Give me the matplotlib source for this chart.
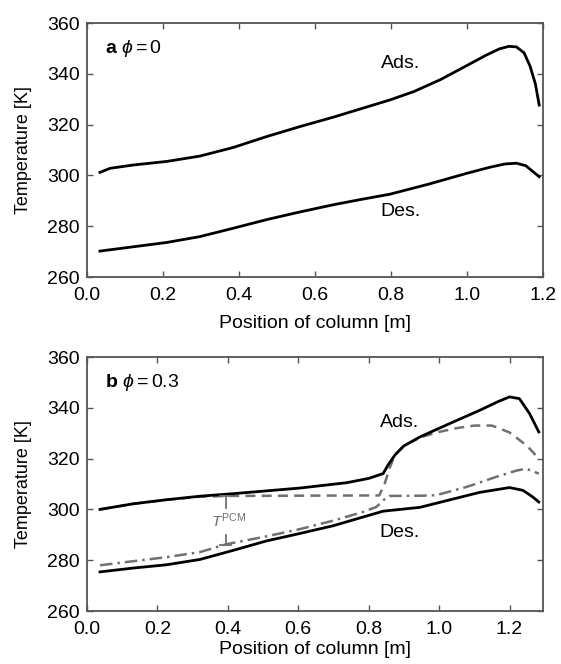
import matplotlib
matplotlib.use("Agg")
import matplotlib.pyplot as plt
import numpy as np

plt.rcParams['font.family'] = ['Liberation Sans', 'DejaVu Sans']
plt.rcParams['mathtext.fontset'] = 'custom'
plt.rcParams['mathtext.rm'] = 'Liberation Sans'
plt.rcParams['mathtext.it'] = 'Liberation Sans:italic'
plt.rcParams['mathtext.bf'] = 'Liberation Sans:bold'
plt.rcParams['mathtext.fallback'] = 'cm'

# ---- Panel a (phi = 0) ----
a_ads_x = [0.034, 0.061, 0.122, 0.21, 0.297, 0.385, 0.473, 0.56, 0.65, 0.72, 0.797, 0.86, 0.93, 0.999, 1.05, 1.085, 1.11, 1.13, 1.15, 1.166, 1.18, 1.19]
a_ads_y = [301.2, 302.8, 304.1, 305.5, 307.6, 311.0, 315.3, 319.2, 323.0, 326.2, 329.7, 333.0, 337.7, 343.2, 347.3, 349.8, 350.8, 350.6, 348.3, 343.0, 336.0, 327.7]
a_des_x = [0.034, 0.122, 0.21, 0.297, 0.385, 0.473, 0.56, 0.65, 0.72, 0.797, 0.90, 0.999, 1.06, 1.10, 1.13, 1.155, 1.175, 1.19]
a_des_y = [270.2, 271.9, 273.6, 275.9, 279.2, 282.6, 285.6, 288.5, 290.5, 292.6, 296.6, 300.8, 303.2, 304.5, 304.8, 303.8, 301.3, 299.5]

# ---- Panel b (phi = 0.3) ----
b_ads_x = [0.037, 0.131, 0.226, 0.321, 0.416, 0.51, 0.604, 0.737, 0.80, 0.841, 0.855, 0.875, 0.90, 0.945, 1.03, 1.115, 1.17, 1.2, 1.228, 1.257, 1.283]
b_ads_y = [300.0, 302.2, 303.8, 305.2, 306.2, 307.3, 308.4, 310.5, 312.2, 314.1, 317.5, 321.5, 325.0, 328.5, 333.8, 339.0, 342.6, 344.3, 343.6, 337.7, 330.5]
b_des_x = [0.037, 0.131, 0.226, 0.321, 0.416, 0.51, 0.604, 0.70, 0.784, 0.841, 0.945, 1.02, 1.115, 1.2, 1.238, 1.265, 1.283]
b_des_y = [275.4, 276.9, 278.2, 280.3, 283.9, 287.6, 290.5, 293.6, 297.0, 299.3, 300.8, 303.4, 306.7, 308.6, 307.5, 305.0, 302.9]
b_pcm_ads_x = [0.037, 0.131, 0.226, 0.321, 0.40, 0.6, 0.83, 0.845, 0.86, 0.875, 0.90, 0.95, 1.0, 1.05, 1.10, 1.15, 1.20, 1.25, 1.283]
b_pcm_ads_y = [300.0, 302.2, 303.8, 305.0, 305.3, 305.4, 305.5, 310.0, 316.5, 321.5, 325.2, 328.5, 330.5, 332.0, 333.0, 333.0, 330.3, 325.0, 320.0]
b_pcm_des_x = [0.037, 0.131, 0.226, 0.321, 0.396, 0.51, 0.604, 0.70, 0.784, 0.822, 0.845, 0.86, 0.95, 0.992, 1.077, 1.162, 1.22, 1.247, 1.283]
b_pcm_des_y = [278.0, 279.6, 281.2, 283.2, 286.3, 289.4, 292.2, 295.6, 299.0, 301.0, 304.0, 305.3, 305.4, 305.6, 308.8, 312.8, 315.3, 316.0, 314.1]

yticks = [260, 280, 300, 320, 340, 360]
xticks = [0.0, 0.2, 0.4, 0.6, 0.8, 1.0, 1.2]

W, H = 561, 664
fig = plt.figure(figsize=(W / 100, H / 100), dpi=100)
FS = 14

def make_ax(top, bottom, xmax, xlab_y):
    left, right = 87, 543
    ax = fig.add_axes([left / W, 1 - bottom / H, (right - left) / W, (bottom - top) / H])
    ax.set_xlim(0, xmax)
    ax.set_ylim(260, 360)
    ax.set_xticks(xticks)
    ax.set_yticks(yticks)
    ax.set_xticklabels([f"{t:.1f}" for t in xticks])
    ax.tick_params(direction='in', top=True, right=True, length=4, width=1.0,
                   color='#555555', labelsize=FS)
    ax.tick_params(axis='x', pad=7)
    ax.tick_params(axis='y', pad=5)
    for s in ax.spines.values():
        s.set_color('#555555')
        s.set_linewidth(1.3)
    ax.set_xlabel('Position of column [m]', fontsize=FS)
    ax.set_ylabel('Temperature [K]', fontsize=13)
    ax.xaxis.set_label_coords(0.5, xlab_y)
    ax.yaxis.set_label_coords(-0.12, 0.5)
    return ax

ax1 = make_ax(23, 277, 1.2, -0.15)
ax1.plot(a_ads_x, a_ads_y, color='black', lw=2.0)
ax1.plot(a_des_x, a_des_y, color='black', lw=2.0)
ax1.text(0.824, 344.1, 'Ads.', ha='center', va='center', fontsize=FS)
ax1.text(0.824, 285.7, 'Des.', ha='center', va='center', fontsize=FS)
ax1.text(0.04, 0.9, r'$\mathbf{a}$ $\phi = 0$', transform=ax1.transAxes,
         ha='left', va='center', fontsize=FS)

ax2 = make_ax(357, 611, 1.295, -0.12)
ax2.plot(b_pcm_ads_x, b_pcm_ads_y, color='#707070', lw=1.8, ls=(0, (4, 2.5)))
ax2.plot(b_pcm_des_x, b_pcm_des_y, color='#707070', lw=1.8, ls=(0, (5, 2, 1, 2)))
ax2.plot(b_ads_x, b_ads_y, color='black', lw=2.0)
ax2.plot(b_des_x, b_des_y, color='black', lw=2.0)
ax2.text(0.888, 334.4, 'Ads.', ha='center', va='center', fontsize=FS)
ax2.text(0.888, 291.1, 'Des.', ha='center', va='center', fontsize=FS)
ax2.text(0.04, 0.9, r'$\mathbf{b}$ $\phi = 0.3$', transform=ax2.transAxes,
         ha='left', va='center', fontsize=FS)
# T^PCM marker
gray = '#707070'
ax2.plot([0.394, 0.394], [305.2, 300.4], color=gray, lw=1.3)
ax2.plot([0.378, 0.410], [305.2, 305.2], color=gray, lw=1.3)
ax2.plot([0.394, 0.394], [290.0, 285.9], color=gray, lw=1.3)
ax2.plot([0.378, 0.410], [285.9, 285.9], color=gray, lw=1.3)
ax2.text(0.353, 295.5, r'$T^{\mathrm{PCM}}$', color=gray, ha='left', va='center', fontsize=11)

fig.savefig('out.png', dpi=100)
